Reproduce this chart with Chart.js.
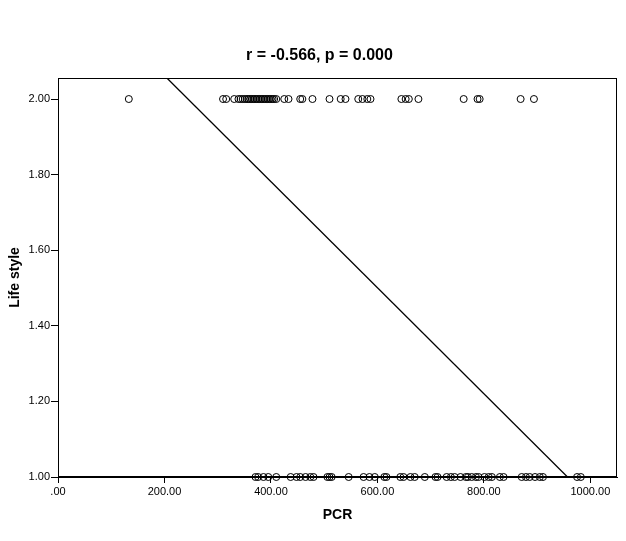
<!DOCTYPE html>
<html>
<head>
<meta charset="utf-8">
<script src="https://cdn.jsdelivr.net/npm/chart.js@4/dist/chart.umd.min.js"></script>
<style>
	body { margin: 0; background: #fff; }
	#wrap { width: 626px; height: 541px; }
</style>
</head>
<body>
<div id="wrap"><canvas id="pcr-chart"></canvas></div>
<script>
// PCR values for the two life style groups
const pcrGroup2 = [
	133, 310, 316, 331, 339, 343, 347, 351, 355, 358, 361, 364, 367, 370, 373,
	376, 379, 382, 385, 388, 391, 394, 397, 400, 403, 406, 410, 425, 433, 455,
	459, 478, 510, 531, 540, 564, 572, 581, 587, 645, 653, 659, 677, 762, 788,
	792, 869, 894
];
const pcrGroup1 = [
	371, 376, 386, 395, 410, 437, 448, 455, 465, 474, 480, 506, 510, 514, 546,
	574, 585, 595, 613, 617, 643, 649, 662, 670, 689, 709, 713, 730, 738, 745,
	756, 766, 770, 777, 785, 790, 801, 809, 815, 830, 837, 871, 879, 886, 896,
	905, 911, 975, 982
];

// fit line end points
const fitX = [204.5, 957];
const fitY = [2.0556, 1.0];

const chartTitle = 'r = -0.566, p = 0.000';

const points = pcrGroup2.map(v => ({ x: v, y: 2 }))
	.concat(pcrGroup1.map(v => ({ x: v, y: 1 })));
const fitLine = fitX.map((v, i) => ({ x: v, y: fitY[i] }));

const font = 'Arial, "Liberation Sans", sans-serif';

// box round the plot and the title (SPSS puts it a bit right of centre)
const frame = {
	id: 'frame',
	afterDraw(chart) {
		const a = chart.chartArea;
		const ctx = chart.ctx;
		ctx.save();
		ctx.strokeStyle = '#000';
		ctx.lineWidth = 1;
		ctx.strokeRect(a.left + 0.5, a.top + 0.5, a.right - a.left - 1, a.bottom - a.top - 1);
		ctx.fillStyle = '#000';
		ctx.font = 'bold 16px ' + font;
		ctx.textAlign = 'center';
		ctx.textBaseline = 'middle';
		ctx.fillText(chartTitle, 319.5, 56);
		ctx.restore();
	}
};

new Chart(document.getElementById('pcr-chart'), {
	type: 'scatter',
	data: {
		datasets: [
			{
				data: points,
				pointStyle: 'circle',
				pointRadius: 3.5,
				pointHoverRadius: 3.5,
				borderColor: '#000',
				backgroundColor: 'rgba(255,255,255,0)',
				borderWidth: 1,
				clip: false
			},
			{
				type: 'line',
				data: fitLine,
				borderColor: '#000',
				borderWidth: 1.3,
				pointRadius: 0,
				fill: false
			}
		]
	},
	options: {
		responsive: true,
		maintainAspectRatio: false,
		animation: false,
		layout: {
			padding: { top: 78, right: 9, bottom: 0, left: 0 }
		},
		plugins: {
			legend: { display: false },
			tooltip: { enabled: false },
			title: { display: false }
		},
		scales: {
			x: {
				type: 'linear',
				min: 0,
				max: 1050,
				afterFit(s) { s.height = 64; },
				border: { color: '#000', width: 1 },
				grid: { drawOnChartArea: false, color: '#000', tickLength: 6 },
				ticks: {
					stepSize: 200,
					includeBounds: false,
					maxRotation: 0,
					padding: 2,
					color: '#000',
					font: { family: font, size: 11 },
					callback: v => v === 0 ? '.00' : v.toFixed(2)
				},
				title: {
					display: true,
					text: 'PCR',
					color: '#000',
					font: { family: font, size: 14, weight: 'bold' },
					padding: { top: 0, bottom: 17 }
				}
			},
			y: {
				type: 'linear',
				min: 1,
				max: 2.0556,
				afterFit(s) { s.width = 58; },
				border: { color: '#000', width: 1 },
				grid: { drawOnChartArea: false, color: '#000', tickLength: 7 },
				ticks: {
					stepSize: 0.2,
					includeBounds: false,
					padding: 1,
					color: '#000',
					font: { family: font, size: 11 },
					callback: v => v.toFixed(2)
				},
				title: {
					display: true,
					text: 'Life style',
					color: '#000',
					font: { family: font, size: 14, weight: 'bold' },
					padding: { top: 7, bottom: 0 }
				}
			}
		}
	},
	plugins: [frame]
});
</script>
</body>
</html>
